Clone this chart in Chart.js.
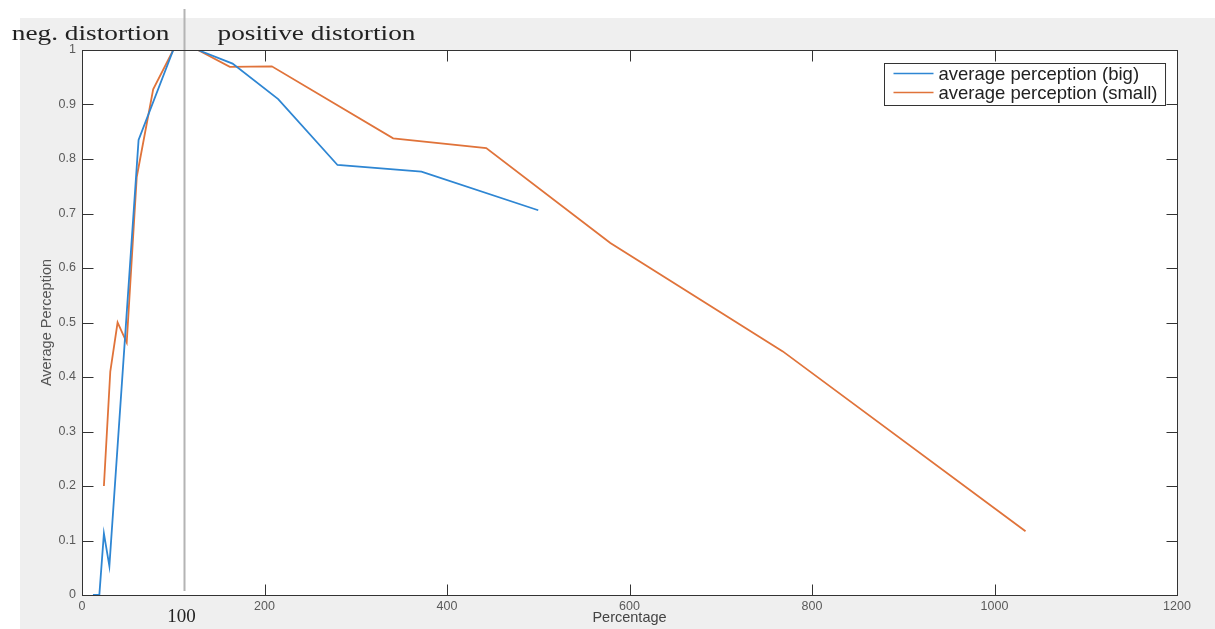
<!DOCTYPE html>
<html>
<head>
<meta charset="utf-8">
<title>Average Perception</title>
<script src="https://cdn.jsdelivr.net/npm/chart.js@4/dist/chart.umd.min.js"></script>
<style>
  html, body { margin: 0; padding: 0; background: #fff; }
  #chart { display: block; }
</style>
</head>
<body>
<canvas id="chart" width="1215" height="629"></canvas>
<script>
// percentage of original size vs. average perception
const bigPct = [12, 19, 24, 30, 62, 100, 127, 165, 215, 280, 372, 500];
const bigAvg = [0, 0, 0.113, 0.053, 0.835, 1, 1, 0.975, 0.91, 0.789, 0.777, 0.706];

const smallPct = [24, 31, 39, 49, 60, 78, 100, 127, 162, 208, 341, 443, 579, 768, 1034];
const smallAvg = [0.2, 0.41, 0.5, 0.463, 0.767, 0.928, 1, 1, 0.969, 0.97, 0.838, 0.82, 0.646, 0.447, 0.117];

const xTicks = [0, 200, 400, 600, 800, 1000, 1200];
const xTickLabels = ['0', '200', '400', '600', '800', '1000', '1200'];
const yTicks = [0, 0.1, 0.2, 0.3, 0.4, 0.5, 0.6, 0.7, 0.8, 0.9, 1];
const yTickLabels = ['0', '0.1', '0.2', '0.3', '0.4', '0.5', '0.6', '0.7', '0.8', '0.9', '1'];

// split between shrunk and enlarged
const splitAt = 111.5;

const BLUE = '#2e86d3';
const ORANGE = '#e0733a';
const AXIS = '#333';
const SANS = '"Liberation Sans", Arial, sans-serif';

const toPoints = (xs, ys) => xs.map((x, i) => ({ x: x, y: ys[i] }));

// stretched text helper (x scale only)
function wideText(ctx, text, x, y, sx) {
    ctx.save();
    ctx.translate(x, y);
    ctx.scale(sx, 1);
    ctx.fillText(text, 0, 0);
    ctx.restore();
}

const matlabFrame = {
    id: 'matlabFrame',
    beforeDraw(chart) {
        const { ctx, chartArea: a } = chart;
        ctx.save();
        ctx.fillStyle = '#efefef';
        ctx.fillRect(20, 18, chart.width - 20, chart.height - 18);
        ctx.fillStyle = '#fff';
        ctx.fillRect(a.left, a.top, a.right - a.left, a.bottom - a.top);
        ctx.restore();
    },
    afterDatasetsDraw(chart) {
        const { ctx, chartArea: a, scales: { x } } = chart;
        const px = Math.round(x.getPixelForValue(splitAt)) + 0.5;
        ctx.save();
        ctx.strokeStyle = '#b4b4b4';
        ctx.lineWidth = 2;
        ctx.beginPath();
        ctx.moveTo(px, 9);
        ctx.lineTo(px, a.bottom - 4);
        ctx.stroke();

        // labels either side of the split
        ctx.fillStyle = '#222';
        ctx.font = '21px "Liberation Serif", serif';
        ctx.textBaseline = 'alphabetic';
        ctx.textAlign = 'right';
        wideText(ctx, 'neg. distortion', px - 15, 40, 1.3);
        ctx.textAlign = 'left';
        wideText(ctx, 'positive distortion', px + 33, 40, 1.3);
        ctx.font = '19px "Liberation Serif", serif';
        ctx.textAlign = 'center';
        ctx.fillText('100', px - 3, 622);
        ctx.restore();
    },
    afterDraw(chart) {
        const { ctx, chartArea: a, scales: { x, y } } = chart;
        const L = Math.round(a.left) + 0.5, R = Math.round(a.right) + 0.5;
        const T = Math.round(a.top) + 0.5, B = Math.round(a.bottom) + 0.5;
        const tick = 11;
        ctx.save();
        ctx.strokeStyle = AXIS;
        ctx.lineWidth = 1;
        ctx.strokeRect(L, T, R - L, B - T);
        ctx.beginPath();
        xTicks.forEach(v => {
            const p = Math.round(x.getPixelForValue(v)) + 0.5;
            ctx.moveTo(p, B); ctx.lineTo(p, B - tick);
            ctx.moveTo(p, T); ctx.lineTo(p, T + tick);
        });
        yTicks.forEach(v => {
            const p = Math.round(y.getPixelForValue(v)) + 0.5;
            ctx.moveTo(L, p); ctx.lineTo(L + tick, p);
            ctx.moveTo(R, p); ctx.lineTo(R - tick, p);
        });
        ctx.stroke();

        // legend box in the top right corner
        const sets = chart.data.datasets;
        ctx.font = '18.5px ' + SANS;
        const textW = Math.max(...sets.map(d => ctx.measureText(d.label).width));
        const boxW = textW + 62, boxH = 42;
        const bx = Math.round(a.right - 12 - boxW) + 0.5, by = Math.round(a.top + 13) + 0.5;
        ctx.fillStyle = '#fff';
        ctx.fillRect(bx, by, boxW, boxH);
        ctx.strokeStyle = AXIS;
        ctx.strokeRect(bx, by, boxW, boxH);
        ctx.textAlign = 'left';
        ctx.textBaseline = 'middle';
        sets.forEach((d, i) => {
            const ly = by + 10 + i * 19;
            ctx.strokeStyle = d.borderColor;
            ctx.lineWidth = 1.5;
            ctx.beginPath();
            ctx.moveTo(bx + 9, ly);
            ctx.lineTo(bx + 49, ly);
            ctx.stroke();
            ctx.fillStyle = '#222';
            ctx.fillText(d.label, bx + 54, ly + 1);
        });
        ctx.restore();
    }
};

new Chart(document.getElementById('chart').getContext('2d'), {
    type: 'line',
    data: {
        datasets: [{
            label: 'average perception (big)',
            data: toPoints(bigPct, bigAvg),
            borderColor: BLUE,
            borderWidth: 1.8,
            pointRadius: 0,
            tension: 0,
            fill: false
        }, {
            label: 'average perception (small)',
            data: toPoints(smallPct, smallAvg),
            borderColor: ORANGE,
            borderWidth: 1.8,
            pointRadius: 0,
            tension: 0,
            fill: false
        }]
    },
    options: {
        responsive: false,
        animation: false,
        layout: { padding: { top: 50, right: 38, left: 0, bottom: 0 } },
        plugins: {
            legend: { display: false },
            tooltip: { enabled: false }
        },
        scales: {
            x: {
                type: 'linear',
                min: 0,
                max: 1200,
                afterBuildTicks: s => { s.ticks = xTicks.map(v => ({ value: v })); },
                afterFit: s => { s.height = 34; },
                grid: { display: false, drawTicks: false },
                border: { display: false },
                ticks: {
                    color: '#5a5a5a',
                    padding: 4,
                    maxRotation: 0,
                    callback: (v, i) => xTickLabels[i],
                    font: { family: SANS, size: 12.5 }
                },
                title: {
                    display: true,
                    text: 'Percentage',
                    color: '#444',
                    padding: { top: 0, bottom: 2 },
                    font: { family: SANS, size: 14.5 }
                }
            },
            y: {
                min: 0,
                max: 1,
                afterBuildTicks: s => { s.ticks = yTicks.map(v => ({ value: v })); },
                afterFit: s => { s.width = 82; },
                grid: { display: false, drawTicks: false },
                border: { display: false },
                ticks: {
                    color: '#5a5a5a',
                    padding: 6,
                    callback: (v, i) => yTickLabels[i],
                    font: { family: SANS, size: 12.5 }
                },
                title: {
                    display: true,
                    text: 'Average Perception',
                    color: '#555',
                    padding: { top: 38, bottom: 0 },
                    font: { family: SANS, size: 14.5 }
                }
            }
        }
    },
    plugins: [matlabFrame]
});
</script>
</body>
</html>
